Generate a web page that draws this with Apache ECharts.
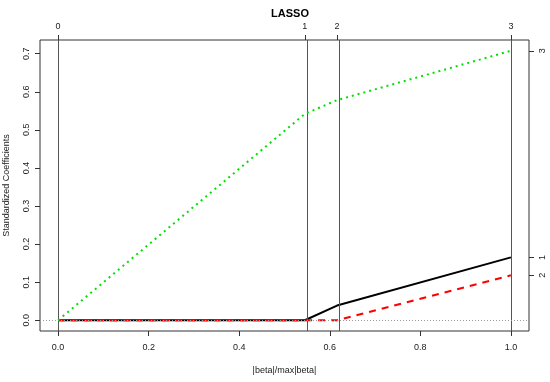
<!DOCTYPE html>
<html>
<head>
<meta charset="utf-8">
<script src="https://cdn.jsdelivr.net/npm/echarts@6/dist/echarts.min.js"></script>
<style>
html, body { margin: 0; padding: 0; background: #fff; }
#chart { width: 550px; height: 382px; }
</style>
</head>
<body>
<div id="chart"></div>
<script>
// LASSO path: |beta|/max|beta| at each step
const steps = [0, 0.545, 0.616, 1.0]
const stepLabels = ['0', '1', '2', '3']
// standardized coefficients at each step
const coef1 = [0, 0, 0.0385, 0.165]
const coef2 = [0, 0, 0, 0.118]
const coef3 = [0, 0.542, 0.578, 0.7077]
const xTicks = [0, 0.2, 0.4, 0.6, 0.8, 1.0]
const yTicks = [0, 0.1, 0.2, 0.3, 0.4, 0.5, 0.6, 0.7]
// right axis: final coefficient of each variable
const endValues = [0.7077, 0.165, 0.118]
const endLabels = ['3', '1', '2']

const font = 'Liberation Sans, Arial, sans-serif'

function pairs (ys) {
  return steps.map((x, i) => [x, ys[i]])
}

const chart = echarts.init(document.getElementById('chart'))

const tickStyle = { show: true, length: 5, inside: false, lineStyle: { color: '#333', width: 1 } }
const noLine = { show: false, onZero: false }

const option = {
  animation: false,
  title: {
    text: 'LASSO',
    left: 285,
    top: 3,
    textAlign: 'center',
    textStyle: { fontFamily: font, fontSize: 11, fontWeight: 'bold', color: '#000' }
  },
  grid: {
    left: 40, right: 21, top: 40, bottom: 51,
    outerBoundsMode: 'none',
    containLabel: false,
    show: true, borderColor: '#333', borderWidth: 1, backgroundColor: 'transparent'
  },
  xAxis: [{
    type: 'value',
    min: -0.04,
    max: 1.04,
    position: 'bottom',
    name: '|beta|/max|beta|',
    nameLocation: 'middle',
    nameGap: 35,
    nameTextStyle: { fontFamily: font, fontSize: 9, color: '#222' },
    axisLine: noLine,
    splitLine: { show: false },
    axisTick: Object.assign({ customValues: xTicks }, tickStyle),
    axisLabel: {
      customValues: xTicks,
      formatter: v => v.toFixed(1),
      fontFamily: font, fontSize: 9, color: '#222', margin: 12
    }
  }, {
    type: 'value',
    min: -0.04,
    max: 1.04,
    position: 'top',
    axisLine: noLine,
    splitLine: { show: false },
    axisTick: Object.assign({ customValues: steps }, tickStyle),
    axisLabel: {
      customValues: steps,
      formatter: v => stepLabels[steps.indexOf(v)],
      fontFamily: font, fontSize: 9, color: '#222', margin: 9
    }
  }],
  yAxis: [{
    type: 'value',
    min: -0.0283,
    max: 0.736,
    position: 'left',
    name: 'Standardized Coefficients',
    nameLocation: 'middle',
    nameGap: 29,
    nameTextStyle: { fontFamily: font, fontSize: 9, color: '#222' },
    axisLine: noLine,
    splitLine: { show: false },
    axisTick: Object.assign({ customValues: yTicks }, tickStyle),
    axisLabel: {
      customValues: yTicks,
      rotate: 90,
      formatter: v => v.toFixed(1),
      fontFamily: font, fontSize: 9, color: '#222', margin: 9
    }
  }, {
    type: 'value',
    min: -0.0283,
    max: 0.736,
    position: 'right',
    axisLine: noLine,
    splitLine: { show: false },
    axisTick: Object.assign({ customValues: endValues }, tickStyle),
    axisLabel: {
      customValues: endValues,
      rotate: 90,
      formatter: v => endLabels[endValues.indexOf(v)],
      fontFamily: font, fontSize: 9, color: '#222', margin: 9
    }
  }],
  series: [{
    type: 'line',
    data: pairs(coef1),
    showSymbol: false,
    lineStyle: { color: '#000', width: 2, type: 'solid' },
    z: 3,
    markLine: {
      silent: true,
      symbol: 'none',
      label: { show: false },
      lineStyle: { color: '#555', width: 1, type: 'solid' },
      data: steps.map(v => ({ xAxis: v })).concat([{ yAxis: 0, lineStyle: { color: '#999', type: [1, 2] } }])
    }
  }, {
    type: 'line',
    data: pairs(coef2),
    showSymbol: false,
    lineStyle: { color: '#ff0000', width: 2, type: [7, 6] },
    z: 4
  }, {
    type: 'line',
    data: pairs(coef3),
    showSymbol: false,
    lineStyle: { color: '#00e000', width: 2, type: [2, 4] },
    z: 5
  }]
}

chart.setOption(option)
</script>
</body>
</html>
